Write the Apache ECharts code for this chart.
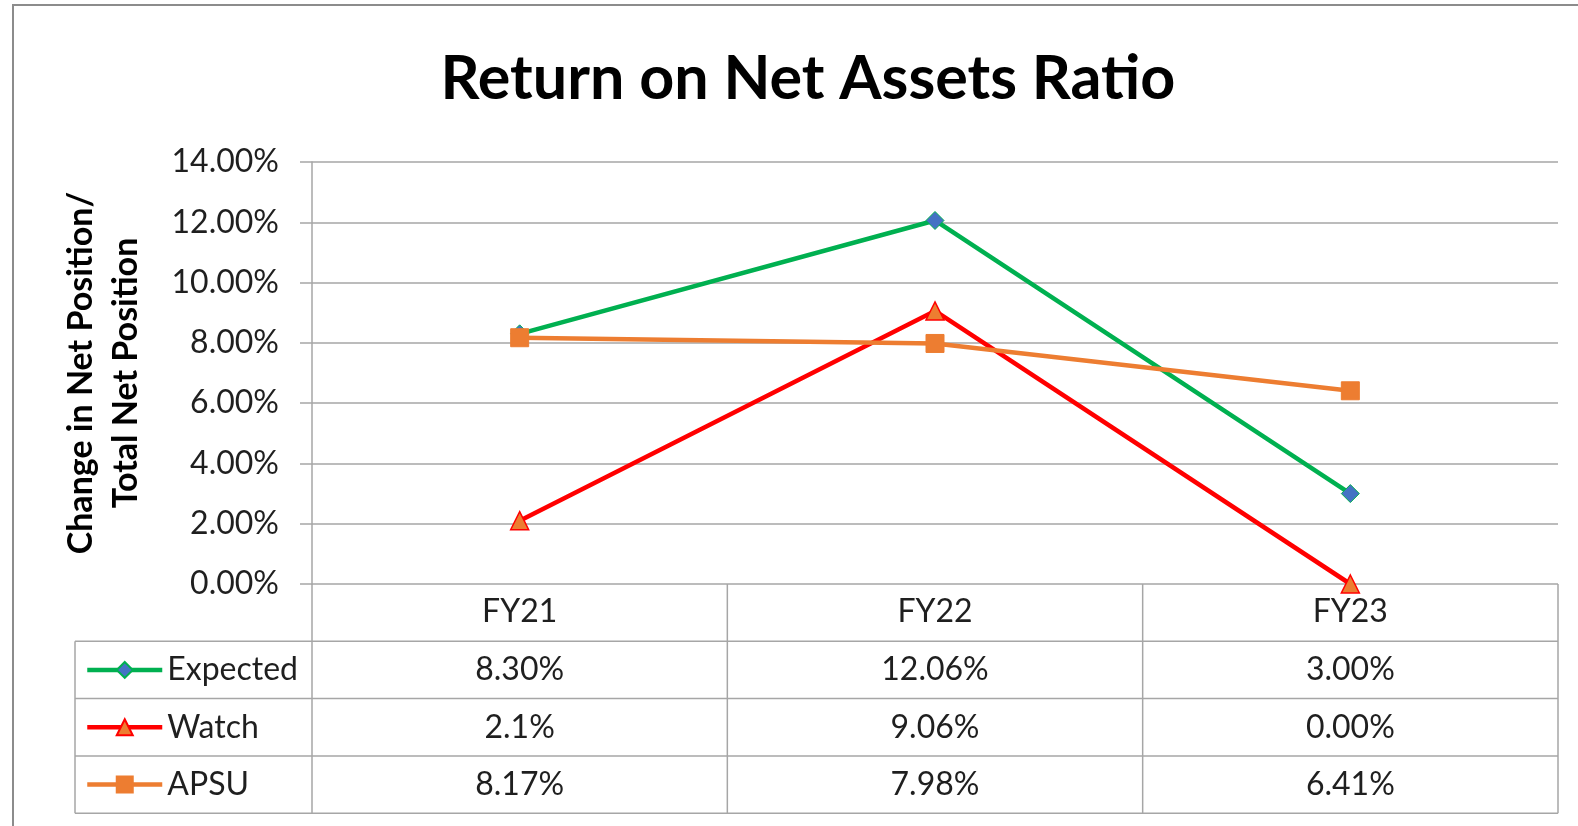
<!DOCTYPE html>
<html>
<head>
<meta charset="utf-8">
<title>Return on Net Assets Ratio</title>
<script src="https://cdn.jsdelivr.net/npm/echarts@6/dist/echarts.min.js"></script>
<style>
    html, body {
        margin: 0;
        padding: 0;
        background: #fff;
    }
    #main {
        width: 1578px;
        height: 826px;
    }
</style>
</head>
<body>
<div id="main"></div>
<script type="text/javascript">
    var categories = ['FY21', 'FY22', 'FY23'];
    var seriesNames = ['Expected', 'Watch', 'APSU'];
    var expected = [8.30, 12.06, 3.00];
    var watch = [2.1, 9.06, 0.00];
    var apsu = [8.17, 7.98, 6.41];
    // text as printed in the data table
    var expectedText = ['8.30%', '12.06%', '3.00%'];
    var watchText = ['2.1%', '9.06%', '0.00%'];
    var apsuText = ['8.17%', '7.98%', '6.41%'];
    var yMin = 0, yMax = 14, yStep = 2;

    var FONT = 'Lato';
    var TXT = '#1f1f1f';
    var GRID_C = '#a6a6a6';
    var ROW_H = 57.3;
    var TABLE_LEFT = 75;

    var chart = echarts.init(document.getElementById('main'));

    var option = {
        animation: false,
        backgroundColor: '#fff',
        textStyle: { fontFamily: FONT },
        title: {
            text: 'Return on Net Assets Ratio',
            left: 803,
            top: 44,
            textAlign: 'center',
            textStyle: { fontFamily: FONT, fontWeight: 'bold', fontSize: 61, color: '#000' }
        },
        grid: { left: 312, right: 20, top: 162, bottom: 242 },
        legend: {
            orient: 'vertical',
            left: 85,
            top: 584 + ROW_H + ROW_H / 2 - 20,
            padding: 0,
            itemWidth: 75,
            itemHeight: 20,
            itemGap: ROW_H - 40,
            data: seriesNames,
            lineStyle: { width: 4.5 },
            textStyle: { fontFamily: FONT, fontSize: 32, color: TXT, lineHeight: 40 }
        },
        xAxis: {
            type: 'category',
            data: categories,
            boundaryGap: true,
            axisLine: { show: false },
            axisTick: { show: false },
            splitLine: { show: false },
            axisLabel: {
                margin: 28,
                verticalAlign: 'middle',
                fontFamily: FONT, fontSize: 32, color: TXT
            }
        },
        yAxis: {
            type: 'value',
            min: yMin,
            max: yMax,
            interval: yStep,
            name: 'Change in Net Position/\nTotal Net Position',
            nameLocation: 'middle',
            nameRotate: 90,
            nameGap: 163,
            nameTextStyle: { fontFamily: FONT, fontWeight: 'bold', fontSize: 34, color: '#000', lineHeight: 45 },
            axisLine: { show: true, lineStyle: { color: GRID_C, width: 1.5 } },
            axisTick: { show: true, length: 12, lineStyle: { color: GRID_C, width: 1.5 } },
            splitLine: { show: true, lineStyle: { color: GRID_C, width: 1.5 } },
            axisLabel: {
                margin: 33,
                fontFamily: FONT, fontSize: 32, color: TXT,
                formatter: function (v) { return v.toFixed(2) + '%'; }
            }
        },
        series: [
            {
                name: 'Expected',
                type: 'line',
                data: expected,
                symbol: 'diamond',
                symbolSize: 18,
                lineStyle: { color: '#00b050', width: 4.5 },
                itemStyle: { color: '#4472c4', borderColor: '#00b050', borderWidth: 1 }
            },
            {
                name: 'Watch',
                type: 'line',
                data: watch,
                symbol: 'triangle',
                symbolSize: 18,
                lineStyle: { color: '#ff0000', width: 4.5 },
                itemStyle: { color: '#ed7d31', borderColor: '#ff0000', borderWidth: 1.5 }
            },
            {
                name: 'APSU',
                type: 'line',
                data: apsu,
                symbol: 'rect',
                symbolSize: 18,
                lineStyle: { color: '#ed7d31', width: 4.5 },
                itemStyle: { color: '#ed7d31', borderColor: '#ed7d31', borderWidth: 1 }
            }
        ]
    };
    chart.setOption(option);

    // data table under the plot, laid out from the category axis
    function buildTable() {
        var c0 = chart.convertToPixel({ xAxisIndex: 0 }, 0);
        var c1 = chart.convertToPixel({ xAxisIndex: 0 }, 1);
        var half = (c1 - c0) / 2;
        var yTop = chart.convertToPixel({ yAxisIndex: 0 }, yMin);
        var left = c0 - half;
        var right = c0 - half + categories.length * 2 * half;
        var bottom = yTop + 4 * ROW_H;
        var els = [];
        var line = function (x1, y1, x2, y2) {
            els.push({
                type: 'line',
                shape: { x1: x1, y1: y1, x2: x2, y2: y2 },
                style: { stroke: GRID_C, lineWidth: 1.5 },
                z: 1
            });
        };
        for (var i = 0; i <= categories.length; i++) {
            line(left + i * 2 * half, yTop, left + i * 2 * half, bottom);
        }
        for (var k = 1; k <= 4; k++) {
            line(TABLE_LEFT, yTop + k * ROW_H, right, yTop + k * ROW_H);
        }
        line(TABLE_LEFT, yTop + ROW_H, TABLE_LEFT, bottom);

        var rows = [expectedText, watchText, apsuText];
        rows.forEach(function (row, r) {
            row.forEach(function (t, j) {
                els.push({
                    type: 'text',
                    x: c0 + j * 2 * half,
                    y: yTop + (r + 1.5) * ROW_H,
                    style: {
                        text: t,
                        align: 'center',
                        verticalAlign: 'middle',
                        fontFamily: FONT,
                        fontSize: 32,
                        fill: TXT
                    },
                    z: 2
                });
            });
        });

        // outer chart frame
        els.push({
            type: 'rect',
            shape: { x: 13, y: 5, width: 1600, height: 900 },
            style: { fill: null, stroke: '#8c8c8c', lineWidth: 2 },
            z: 0
        });
        chart.setOption({ graphic: els });
    }
    buildTable();
</script>
</body>
</html>
